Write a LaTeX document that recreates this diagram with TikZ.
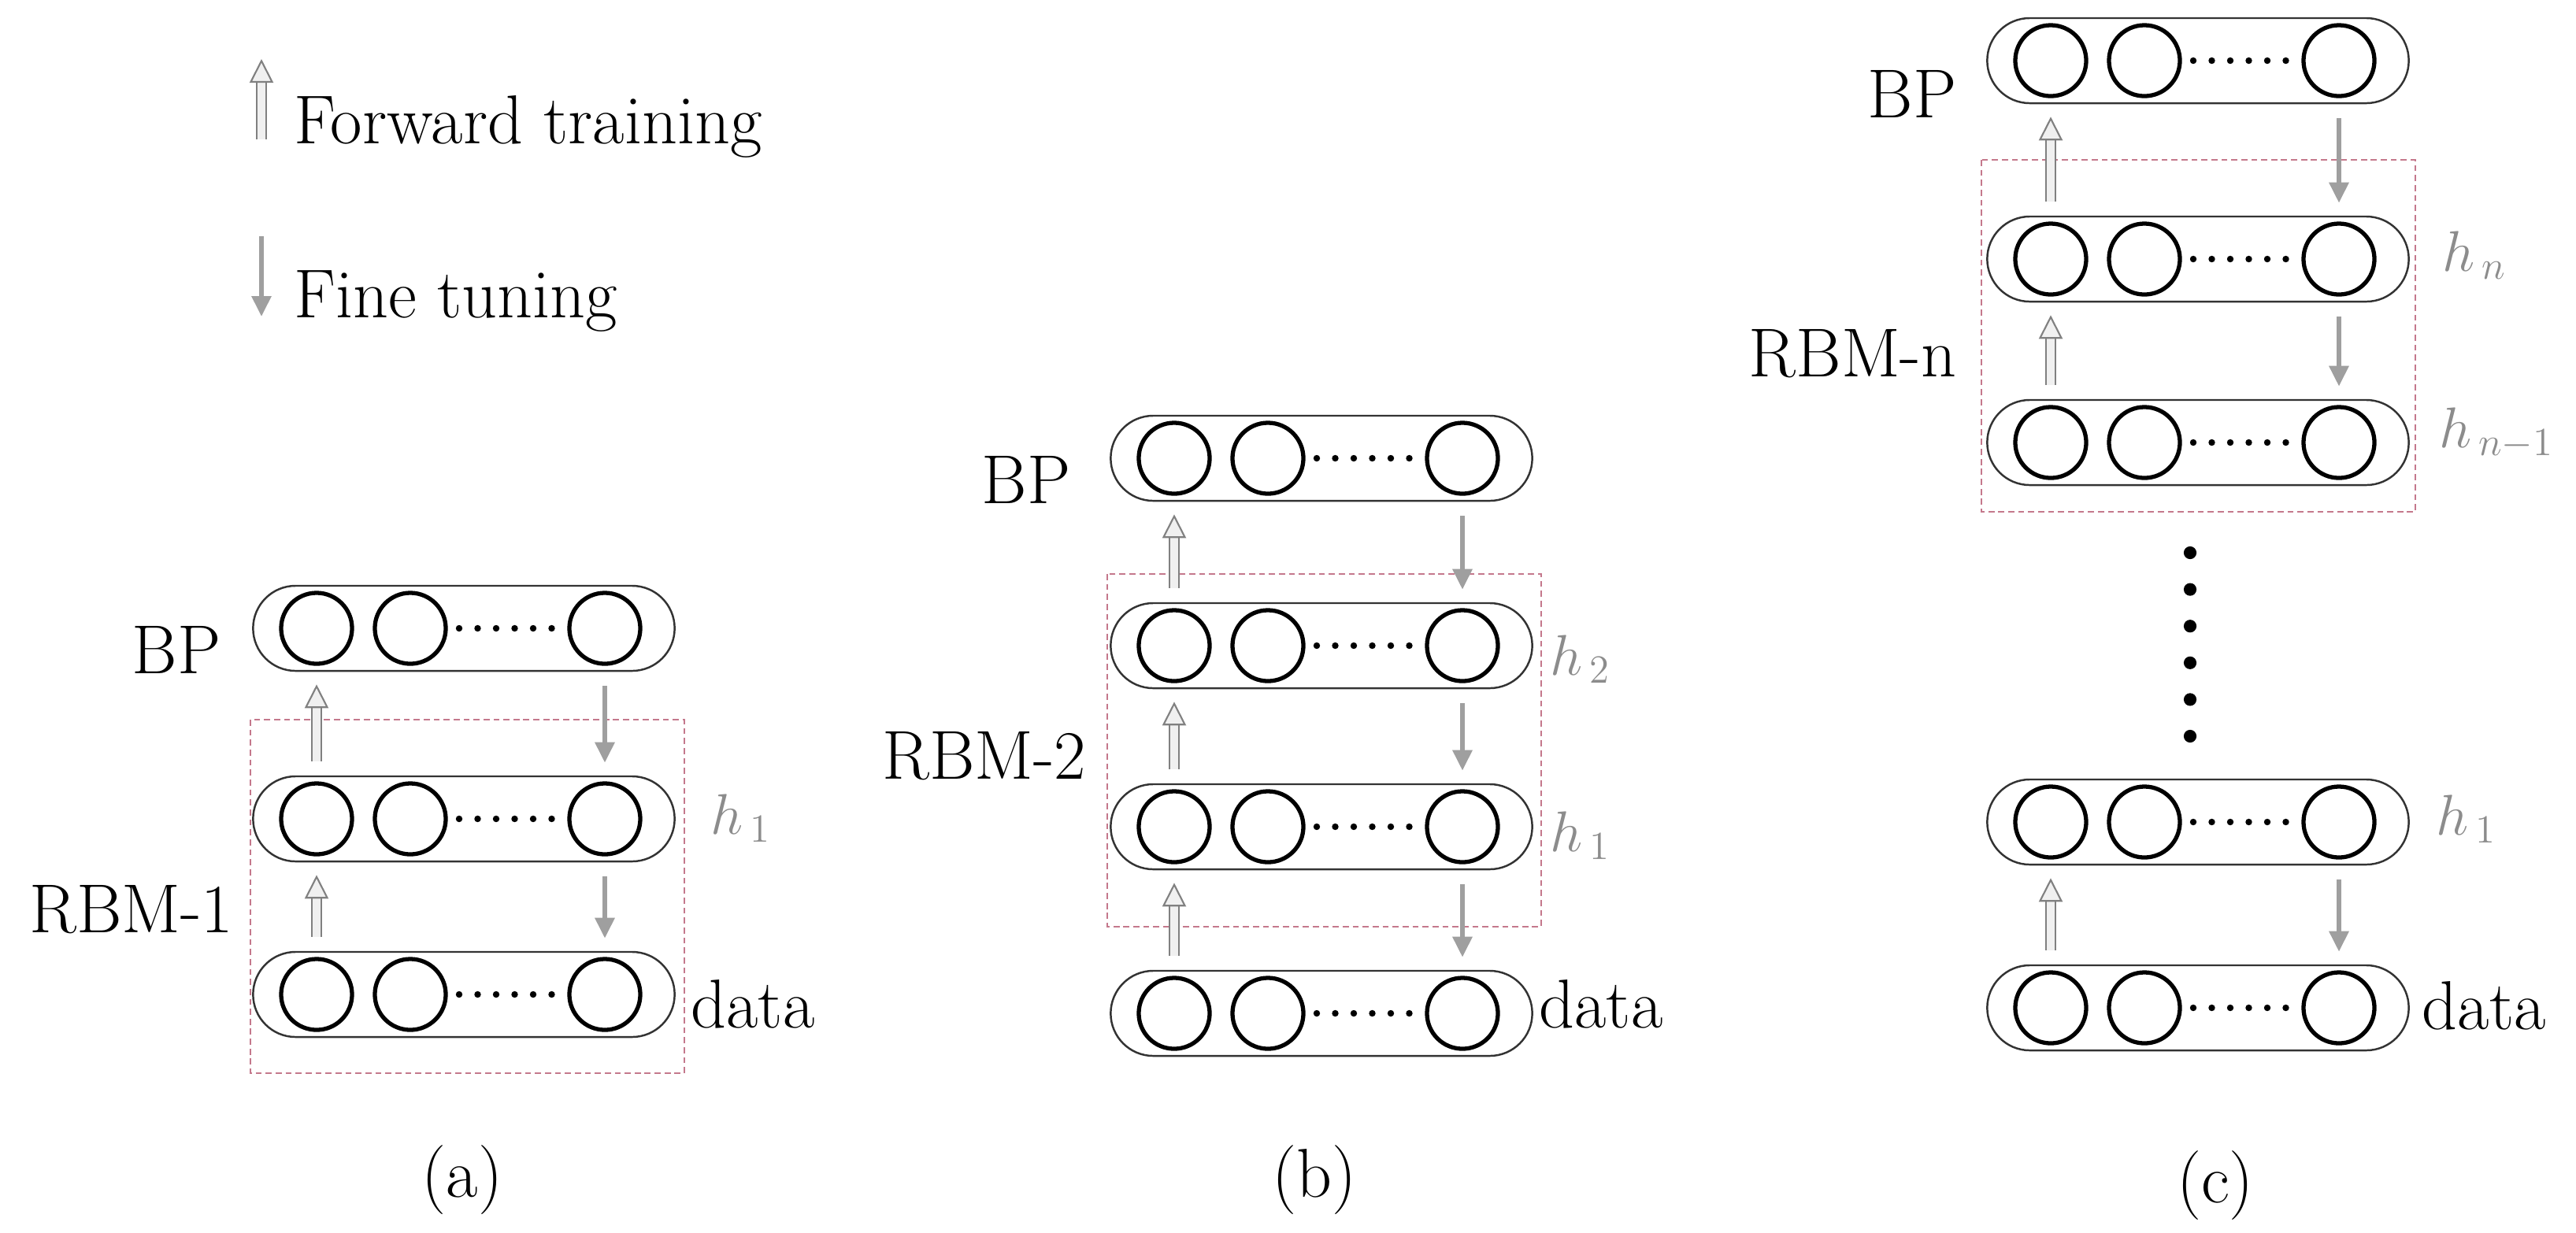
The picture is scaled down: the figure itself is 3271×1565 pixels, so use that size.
\documentclass[tikz,border=0pt]{standalone}
\usepackage{tikz}
\usetikzlibrary{arrows.meta}
\definecolor{rbmred}{RGB}{196,120,140}
\tikzset{
  pill/.style={rectangle, rounded corners=0.54cm, minimum width=5.35cm, minimum height=1.08cm, draw=black!80, line width=0.7pt},
  unit/.style={circle, minimum size=0.9cm, inner sep=0pt, draw=black, line width=1.5pt},
  fwd/.style={draw=gray, line width=0.6pt, double=gray!12, double distance=2.6pt, -{Triangle[open, fill=gray!12, length=0.3cm, width=0.3cm]}, shorten <=0.18cm, shorten >=0.16cm},
  tune/.style={draw=gray!75, line width=1.7pt, -{Triangle[length=0.26cm, width=0.24cm]}, shorten <=0.18cm, shorten >=0.16cm},
  rbm/.style={draw=rbmred, line width=0.6pt, dash pattern=on 2.2pt off 1.4pt},
  lbl/.style={font=\fontsize{25}{30}\selectfont, inner sep=0pt},
  hlbl/.style={font=\fontsize{22}{26}\selectfont, text=gray!90, inner sep=0pt}
}
% one layer: name, centre x, centre y
\newcommand{\layer}[3]{
  \node[pill] (#1) at (#2,#3) {};
  \node[unit] (#1c1) at (#2-187,#3) {};
  \node[unit] (#1c2) at (#2-68,#3) {};
  \node[unit] (#1c3) at (#2+179,#3) {};
  \foreach \k in {0,...,5} \fill (#2-6+\k*23.5,#3) circle[radius=1.2pt];
}
\begin{document}
\begin{tikzpicture}[x=0.01cm, y=-0.01cm]
\useasboundingbox (0,0) rectangle (3271,1565);

% legend
\coordinate (fa) at (332,177); \coordinate (fb) at (332,75);
\coordinate (ta) at (332,300); \coordinate (tb) at (332,402);
\draw[fwd, shorten <=0pt, shorten >=0pt] (fa) -- (fb);
\draw[tune, shorten <=0pt, shorten >=0pt] (ta) -- (tb);
\node[lbl, anchor=base west] (lfwd) at (373,182) {Forward training};
\node[lbl, anchor=base west] (ltune) at (373,403) {Fine tuning};

% (a)
\draw[rbm] (318,914) rectangle (869,1363);
\layer{a2}{589}{798}
\layer{a1}{589}{1040}
\layer{a0}{589}{1263}
\draw[fwd] (a0.north -| a0c1) -- (a1.south -| a1c1);
\draw[fwd] (a1.north -| a1c1) -- (a2.south -| a2c1);
\draw[tune] (a2.south -| a2c3) -- (a1.north -| a1c3);
\draw[tune] (a1.south -| a1c3) -- (a0.north -| a0c3);
\node[lbl, anchor=base east] (abp) at (281,855) {BP};
\node[lbl, anchor=base east] (arbm) at (297,1184) {RBM-1};
\node[hlbl, anchor=base west] (ah1) at (902,1059) {$h_{\,1}$};
\node[lbl, anchor=base west] (adata) at (877,1305) {data};
\node[lbl] (capa) at (587,1499) {(a)};

% (b)
\draw[rbm] (1406,729) rectangle (1957,1177);
\layer{b3}{1678}{582}
\layer{b2}{1678}{820}
\layer{b1}{1678}{1050}
\layer{b0}{1678}{1287}
\draw[fwd] (b0.north -| b0c1) -- (b1.south -| b1c1);
\draw[fwd] (b1.north -| b1c1) -- (b2.south -| b2c1);
\draw[fwd] (b2.north -| b2c1) -- (b3.south -| b3c1);
\draw[tune] (b3.south -| b3c3) -- (b2.north -| b2c3);
\draw[tune] (b2.south -| b2c3) -- (b1.north -| b1c3);
\draw[tune] (b1.south -| b1c3) -- (b0.north -| b0c3);
\node[lbl, anchor=base east] (bbp) at (1360,639) {BP};
\node[lbl, anchor=base east] (brbm) at (1380,989) {RBM-2};
\node[hlbl, anchor=base west] (bh2) at (1968,857) {$h_{\,2}$};
\node[hlbl, anchor=base west] (bh1) at (1968,1081) {$h_{\,1}$};
\node[lbl, anchor=base west] (bdata) at (1954,1305) {data};
\node[lbl] (capb) at (1669,1499) {(b)};

% (c)
\draw[rbm] (2516,203) rectangle (3067,650);
\layer{c4}{2791}{77}
\layer{c3}{2791}{329}
\layer{c2}{2791}{562}
\layer{c1}{2791}{1044}
\layer{c0}{2791}{1280}
\draw[fwd] (c0.north -| c0c1) -- (c1.south -| c1c1);
\draw[fwd] (c2.north -| c2c1) -- (c3.south -| c3c1);
\draw[fwd] (c3.north -| c3c1) -- (c4.south -| c4c1);
\draw[tune] (c4.south -| c4c3) -- (c3.north -| c3c3);
\draw[tune] (c3.south -| c3c3) -- (c2.north -| c2c3);
\draw[tune] (c1.south -| c1c3) -- (c0.north -| c0c3);
\foreach \k in {0,...,5} \fill (2781,702+\k*46.6) circle[radius=2.3pt];
\node[lbl, anchor=base east] (cbp) at (2485,149) {BP};
\node[lbl, anchor=base east] (crbm) at (2485,478) {RBM-n};
\node[hlbl, anchor=base west] (chn) at (3101,344) {$h_{\,n}$};
\node[hlbl, anchor=base west] (chm) at (3097,568) {$h_{\,n-1}$};
\node[hlbl, anchor=base west] (ch1) at (3093,1060) {$h_{\,1}$};
\node[lbl, anchor=base west] (cdata) at (3075,1307) {data};
\node[lbl] (capc) at (2813,1506) {(c)};
\end{tikzpicture}
\end{document}
